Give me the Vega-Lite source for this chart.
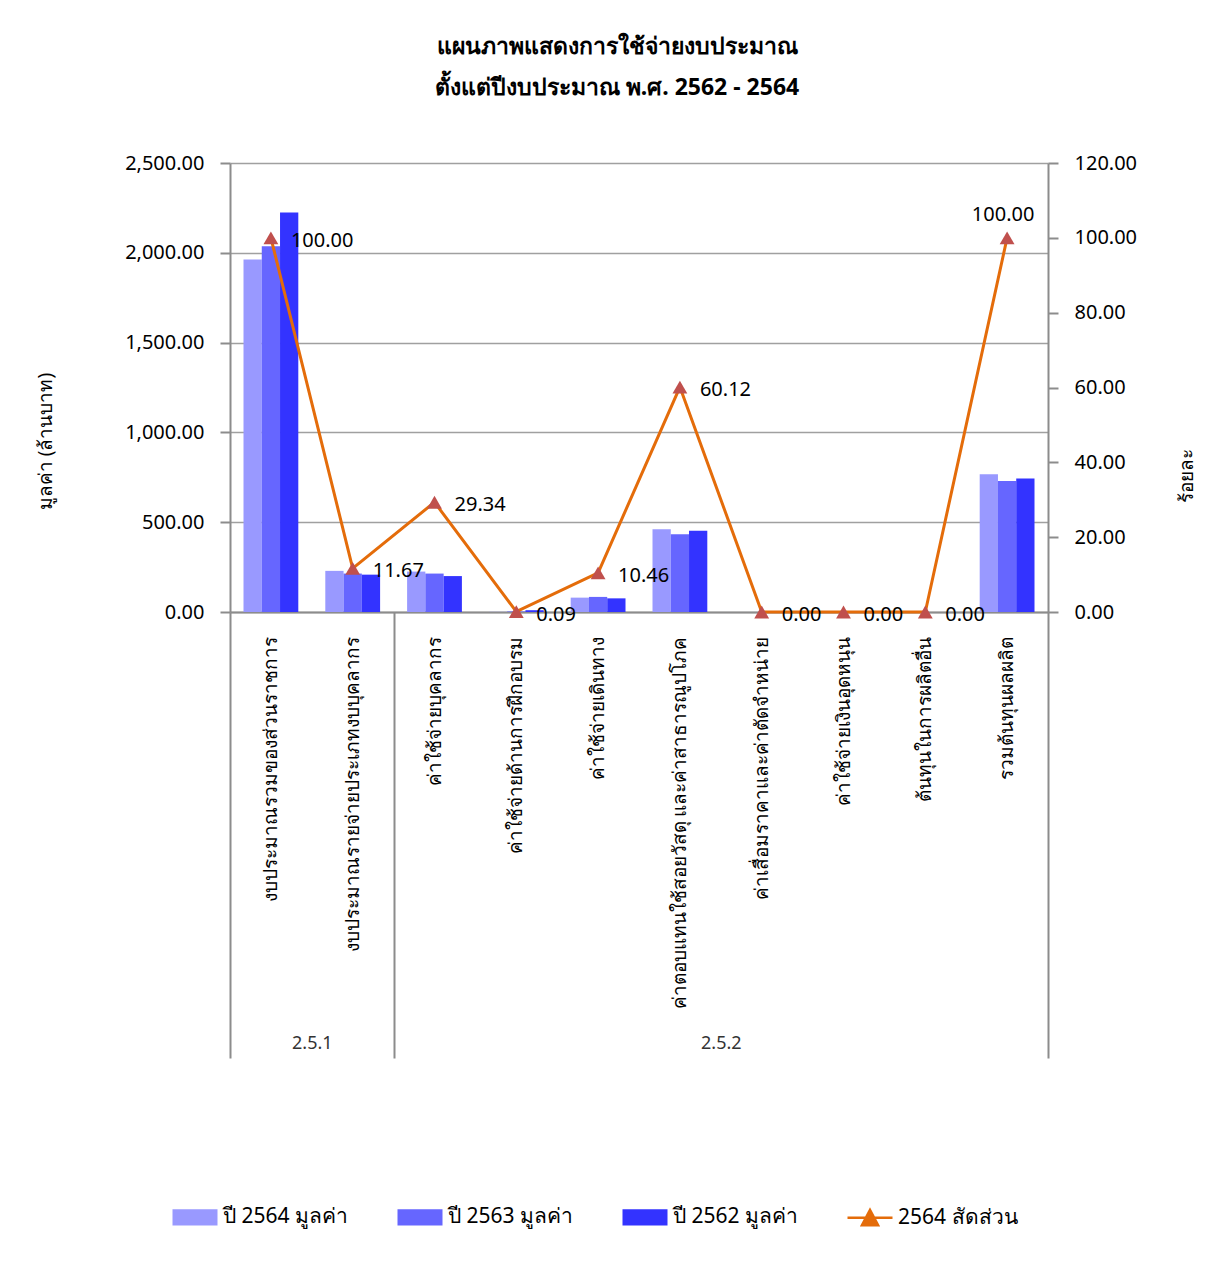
{
  "$schema": "https://vega.github.io/schema/vega-lite/v6.json",
  "width": 818,
  "height": 449,
  "autosize": {"type": "none"},
  "padding": {"left": 230, "top": 163, "right": 179, "bottom": 652},
  "background": "white",
  "config": {"font": "Noto Sans", "view": {"stroke": null}},
  "title": {
    "text": ["แผนภาพแสดงการใช้จ่ายงบประมาณ", "ตั้งแต่ปีงบประมาณ พ.ศ. 2562 - 2564"],
    "fontSize": 23,
    "fontWeight": "bold",
    "color": "black",
    "lineHeight": 41,
    "offset": 53,
    "dx": -22,
    "anchor": "middle"
  },
  "datasets": {
    "bars": [
      {"cat": "งบประมาณรวมของส่วนราชการ", "series": "ปี 2564 มูลค่า", "value": 1962},
      {"cat": "งบประมาณรวมของส่วนราชการ", "series": "ปี 2563 มูลค่า", "value": 2036},
      {"cat": "งบประมาณรวมของส่วนราชการ", "series": "ปี 2562 มูลค่า", "value": 2225},
      {"cat": "งบประมาณรายจ่ายประเภทงบบุคลากร", "series": "ปี 2564 มูลค่า", "value": 229},
      {"cat": "งบประมาณรายจ่ายประเภทงบบุคลากร", "series": "ปี 2563 มูลค่า", "value": 214},
      {"cat": "งบประมาณรายจ่ายประเภทงบบุคลากร", "series": "ปี 2562 มูลค่า", "value": 208},
      {"cat": "ค่าใช้จ่ายบุคลากร", "series": "ปี 2564 มูลค่า", "value": 225},
      {"cat": "ค่าใช้จ่ายบุคลากร", "series": "ปี 2563 มูลค่า", "value": 214},
      {"cat": "ค่าใช้จ่ายบุคลากร", "series": "ปี 2562 มูลค่า", "value": 200},
      {"cat": "ค่าใช้จ่ายด้านการฝึกอบรม", "series": "ปี 2564 มูลค่า", "value": 0.69},
      {"cat": "ค่าใช้จ่ายด้านการฝึกอบรม", "series": "ปี 2563 มูลค่า", "value": 3},
      {"cat": "ค่าใช้จ่ายด้านการฝึกอบรม", "series": "ปี 2562 มูลค่า", "value": 10},
      {"cat": "ค่าใช้จ่ายเดินทาง", "series": "ปี 2564 มูลค่า", "value": 80},
      {"cat": "ค่าใช้จ่ายเดินทาง", "series": "ปี 2563 มูลค่า", "value": 84},
      {"cat": "ค่าใช้จ่ายเดินทาง", "series": "ปี 2562 มูลค่า", "value": 76},
      {"cat": "ค่าตอบแทนใช้สอยวัสดุ และค่าสาธารณูปโภค", "series": "ปี 2564 มูลค่า", "value": 461},
      {"cat": "ค่าตอบแทนใช้สอยวัสดุ และค่าสาธารณูปโภค", "series": "ปี 2563 มูลค่า", "value": 433},
      {"cat": "ค่าตอบแทนใช้สอยวัสดุ และค่าสาธารณูปโภค", "series": "ปี 2562 มูลค่า", "value": 453},
      {"cat": "ค่าเสื่อมราคาและค่าตัดจำหน่าย", "series": "ปี 2564 มูลค่า", "value": 0},
      {"cat": "ค่าเสื่อมราคาและค่าตัดจำหน่าย", "series": "ปี 2563 มูลค่า", "value": 0},
      {"cat": "ค่าเสื่อมราคาและค่าตัดจำหน่าย", "series": "ปี 2562 มูลค่า", "value": 0},
      {"cat": "ค่าใช้จ่ายเงินอุดหนุน", "series": "ปี 2564 มูลค่า", "value": 0},
      {"cat": "ค่าใช้จ่ายเงินอุดหนุน", "series": "ปี 2563 มูลค่า", "value": 0},
      {"cat": "ค่าใช้จ่ายเงินอุดหนุน", "series": "ปี 2562 มูลค่า", "value": 0},
      {"cat": "ต้นทุนในการผลิตอื่น", "series": "ปี 2564 มูลค่า", "value": 0},
      {"cat": "ต้นทุนในการผลิตอื่น", "series": "ปี 2563 มูลค่า", "value": 0},
      {"cat": "ต้นทุนในการผลิตอื่น", "series": "ปี 2562 มูลค่า", "value": 0},
      {"cat": "รวมต้นทุนผลผลิต", "series": "ปี 2564 มูลค่า", "value": 767},
      {"cat": "รวมต้นทุนผลผลิต", "series": "ปี 2563 มูลค่า", "value": 729},
      {"cat": "รวมต้นทุนผลผลิต", "series": "ปี 2562 มูลค่า", "value": 744}
    ],
    "line": [
      {"cat": "งบประมาณรวมของส่วนราชการ", "pct": 100},
      {"cat": "งบประมาณรายจ่ายประเภทงบบุคลากร", "pct": 11.67},
      {"cat": "ค่าใช้จ่ายบุคลากร", "pct": 29.34},
      {"cat": "ค่าใช้จ่ายด้านการฝึกอบรม", "pct": 0.09},
      {"cat": "ค่าใช้จ่ายเดินทาง", "pct": 10.46},
      {"cat": "ค่าตอบแทนใช้สอยวัสดุ และค่าสาธารณูปโภค", "pct": 60.12},
      {"cat": "ค่าเสื่อมราคาและค่าตัดจำหน่าย", "pct": 0},
      {"cat": "ค่าใช้จ่ายเงินอุดหนุน", "pct": 0},
      {"cat": "ต้นทุนในการผลิตอื่น", "pct": 0},
      {"cat": "รวมต้นทุนผลผลิต", "pct": 100}
    ],
    "groups": [
      {"grp": "2.5.1", "start": 0, "end": 2},
      {"grp": "2.5.2", "start": 2, "end": 10}
    ]
  },
  "layer": [
    {
      "layer": [
        {
          "data": {"name": "bars"},
          "mark": {"type": "bar"},
          "encoding": {
            "x": {
              "field": "cat",
              "type": "nominal",
              "sort": ["งบประมาณรวมของส่วนราชการ", "งบประมาณรายจ่ายประเภทงบบุคลากร", "ค่าใช้จ่ายบุคลากร", "ค่าใช้จ่ายด้านการฝึกอบรม", "ค่าใช้จ่ายเดินทาง", "ค่าตอบแทนใช้สอยวัสดุ และค่าสาธารณูปโภค", "ค่าเสื่อมราคาและค่าตัดจำหน่าย", "ค่าใช้จ่ายเงินอุดหนุน", "ต้นทุนในการผลิตอื่น", "รวมต้นทุนผลผลิต"],
              "scale": {"paddingInner": 0.33, "paddingOuter": 0.165},
              "axis": {
                "title": null,
                "labelAngle": -90,
                "labelFontSize": 19,
                "labelColor": "black",
                "labelPadding": 24,
                "labelLimit": 500,
                "ticks": false,
                "domainColor": "#8c8c8c",
                "domainWidth": 2
              }
            },
            "xOffset": {"field": "series", "sort": ["ปี 2564 มูลค่า", "ปี 2563 มูลค่า", "ปี 2562 มูลค่า"]},
            "y": {
              "field": "value",
              "type": "quantitative",
              "scale": {"domain": [0, 2500], "nice": false},
              "axis": {
                "title": "มูลค่า (ล้านบาท)",
                "values": [0, 500, 1000, 1500, 2000, 2500],
                "format": ",.2f",
                "domainColor": "#8c8c8c",
                "domainWidth": 2,
                "tickColor": "#8c8c8c",
                "tickWidth": 2,
                "tickSize": 10,
                "labelFontSize": 20,
                "labelColor": "black",
                "labelPadding": 16,
                "gridColor": "#a0a0a0",
                "gridWidth": 1.5,
                "titleFontSize": 19,
                "titleFontWeight": "normal",
                "titleColor": "black",
                "titlePadding": 69,
                "titleY": 278
              }
            },
            "color": {
              "field": "series",
              "type": "nominal",
              "scale": {
                "domain": ["ปี 2564 มูลค่า", "ปี 2563 มูลค่า", "ปี 2562 มูลค่า", "2564 สัดส่วน"],
                "range": ["#9999FF", "#6666FF", "#3333FF", "#E46C0A"]
              },
              "legend": {
                "orient": "none",
                "legendX": -59,
                "legendY": 1030,
                "direction": "horizontal",
                "title": null,
                "labelFontSize": 21,
                "labelColor": "black",
                "labelLimit": 400,
                "labelOffset": 4,
                "columnPadding": 44,
                "symbolSize": 2025,
                "encode": {
                  "symbols": {
                    "update": {
                      "shape": {"signal": "datum.value === '2564 สัดส่วน' ? 'M-1,0H1M-0.36,0.34L0,-0.34L0.36,0.34Z' : 'M-1,-0.36H1V0.36H-1Z'"},
                      "stroke": {"signal": "datum.value === '2564 สัดส่วน' ? '#E46C0A' : 'transparent'"},
                      "strokeWidth": {"value": 2.5},
                      "fill": {"signal": "datum.value === '2564 สัดส่วน' ? '#C0504D' : scale('color', datum.value)"},
                      "opacity": {"value": 1}
                    }
                  }
                }
              }
            }
          }
        },
        {
          "data": {"name": "line"},
          "encoding": {
            "x": {
              "field": "cat",
              "type": "nominal",
              "sort": ["งบประมาณรวมของส่วนราชการ", "งบประมาณรายจ่ายประเภทงบบุคลากร", "ค่าใช้จ่ายบุคลากร", "ค่าใช้จ่ายด้านการฝึกอบรม", "ค่าใช้จ่ายเดินทาง", "ค่าตอบแทนใช้สอยวัสดุ และค่าสาธารณูปโภค", "ค่าเสื่อมราคาและค่าตัดจำหน่าย", "ค่าใช้จ่ายเงินอุดหนุน", "ต้นทุนในการผลิตอื่น", "รวมต้นทุนผลผลิต"]
            },
            "y": {
              "field": "pct",
              "type": "quantitative",
              "scale": {"domain": [0, 120], "nice": false},
              "axis": {
                "orient": "right",
                "title": "ร้อยละ",
                "values": [0, 20, 40, 60, 80, 100, 120],
                "format": ".2f",
                "grid": false,
                "domainColor": "#8c8c8c",
                "domainWidth": 2,
                "tickColor": "#8c8c8c",
                "tickWidth": 2,
                "tickSize": 10,
                "labelFontSize": 20,
                "labelColor": "black",
                "labelPadding": 16,
                "titleFontSize": 19,
                "titleFontWeight": "normal",
                "titleColor": "black",
                "titleAngle": 270,
                "titlePadding": 60,
                "titleY": 312
              }
            }
          },
          "layer": [
            {"mark": {"type": "line", "color": "#E46C0A", "strokeWidth": 3}},
            {"mark": {"type": "point", "shape": "triangle-up", "filled": true, "color": "#C0504D", "size": 220, "opacity": 1}},
            {
              "transform": [{"filter": "datum.cat !== 'รวมต้นทุนผลผลิต'"}],
              "mark": {"type": "text", "align": "left", "baseline": "middle", "dx": 20, "dy": 3, "fontSize": 20, "color": "black"},
              "encoding": {"text": {"field": "pct", "type": "quantitative", "format": ".2f"}}
            },
            {
              "transform": [{"filter": "datum.cat === 'รวมต้นทุนผลผลิต'"}],
              "mark": {"type": "text", "align": "center", "baseline": "middle", "dx": -4, "dy": -23, "fontSize": 20, "color": "black"},
              "encoding": {"text": {"field": "pct", "type": "quantitative", "format": ".2f"}}
            }
          ]
        }
      ],
      "resolve": {"scale": {"y": "independent"}}
    },
    {
      "data": {"name": "groups"},
      "mark": {"type": "rect", "opacity": 0},
      "encoding": {
        "x": {
          "field": "start",
          "type": "quantitative",
          "scale": {"domain": [0, 10], "nice": false},
          "axis": {
            "orient": "bottom",
            "title": null,
            "values": [0, 1, 2, 6, 10],
            "labelExpr": "datum.value == 1 ? '2.5.1' : datum.value == 6 ? '2.5.2' : ''",
            "labelOverlap": false,
            "labelFlush": false,
            "domain": false,
            "grid": false,
            "tickSize": 446,
            "tickColor": {"condition": {"test": "datum.value == 1 || datum.value == 6", "value": "transparent"}, "value": "#8c8c8c"},
            "tickWidth": 2,
            "labelPadding": -24,
            "labelFontSize": 18,
            "labelColor": "#333333"
          }
        },
        "x2": {"field": "end"}
      }
    }
  ],
  "resolve": {"scale": {"x": "independent"}, "axis": {"x": "independent"}}
}
